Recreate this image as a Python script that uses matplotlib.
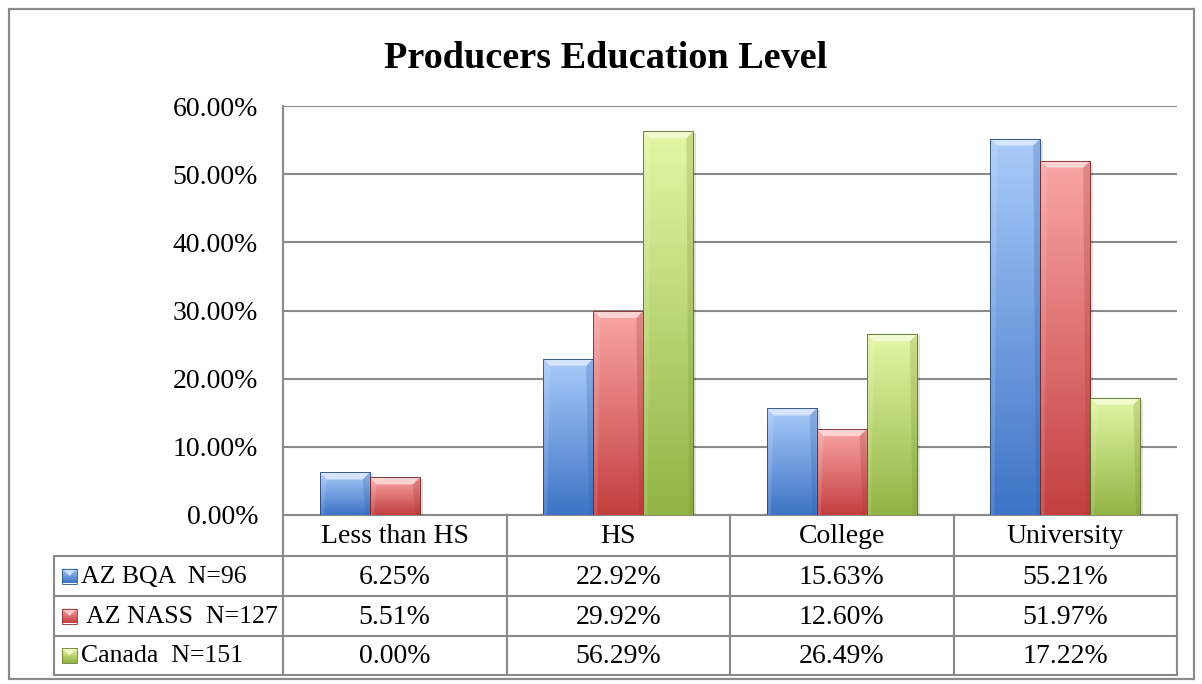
import matplotlib.pyplot as plt
import numpy as np
from matplotlib.colors import LinearSegmentedColormap, to_rgb
from matplotlib.patches import Polygon, Rectangle

plt.rcParams['font.family'] = ['Liberation Serif', 'DejaVu Serif']

categories = ["Less than HS", "HS", "College", "University"]
series_names = ["AZ BQA  N=96", " AZ NASS  N=127", "Canada  N=151"]
az_bqa = [6.25, 22.92, 15.63, 55.21]
az_nass = [5.51, 29.92, 12.60, 51.97]
canada = [0.00, 56.29, 26.49, 17.22]
series = [az_bqa, az_nass, canada]
yticks = [0, 10, 20, 30, 40, 50, 60]

# light top / dark bottom of each bar gradient
tops = ["#a9cbfa", "#f9a5a5", "#e3f7a4"]
bottoms = ["#3e74c6", "#c43f3f", "#92b444"]

W, H = 1202, 684
fig = plt.figure(figsize=(W / 100, H / 100), dpi=100)

# pixel-space layer for border, title and table
bg = fig.add_axes([0, 0, 1, 1])
bg.set_xlim(0, W)
bg.set_ylim(H, 0)
bg.axis('off')

gray = "#8a8a8a"
bg.add_patch(Rectangle((9, 9), 1185, 670, fill=False, ec=gray, lw=1.6))
bg.text(606, 58, "Producers Education Level", ha='center', va='center',
        fontsize=27.5, fontweight='bold')

left, right, top, bottom = 283, 1177, 106, 515
ax = fig.add_axes([left / W, 1 - bottom / H, (right - left) / W, (bottom - top) / H])
ax.set_facecolor('none')
ax.set_xlim(-0.5, len(categories) - 0.5)
ax.set_ylim(0, 60)
ax.set_yticks(yticks)
ax.set_yticklabels([f"{v:.2f}%" for v in yticks])
ax.set_xticks([])
ax.tick_params(axis='y', length=0, pad=18, labelsize=20)
for s in ['top', 'right', 'bottom']:
    ax.spines[s].set_visible(False)
ax.spines['left'].set_color(gray)
ax.spines['left'].set_linewidth(1.5)
ax.yaxis.grid(True, color=gray, lw=1.5)
ax.set_axisbelow(True)


def shade(c, f):
    r, g, b = to_rgb(c)
    return (r * f, g * f, b * f)


def lighten(c, f):
    r, g, b = to_rgb(c)
    return (r + (1 - r) * f, g + (1 - g) * f, b + (1 - b) * f)


bw = 0.224
x = np.arange(len(categories))
px_x = (len(categories)) / (right - left)   # data units per pixel
px_y = 60 / (bottom - top)
bev = 7
for i, vals in enumerate(series):
    cmap = LinearSegmentedColormap.from_list(f"g{i}", [bottoms[i], tops[i]])
    bars = ax.bar(x + (i - 1) * bw, vals, bw, color='none', edgecolor='none')
    for b in bars:
        x0, w, h = b.get_x(), b.get_width(), b.get_height()
        if h <= 0:
            continue
        # soft drop shadow
        ax.add_patch(Rectangle((x0 + 3 * px_x, 0), w, h - 2 * px_y,
                               fc='black', alpha=0.12, ec='none', zorder=1.5))
        clip = Rectangle((x0, 0), w, h, transform=ax.transData)
        im = ax.imshow(np.linspace(0, 1, 100).reshape(-1, 1), cmap=cmap,
                       extent=[x0, x0 + w, 0, h], origin='lower',
                       aspect='auto', zorder=2)
        im.set_clip_path(clip)
        dx, dy = bev * px_x, bev * px_y
        ax.add_patch(Polygon([(x0, h), (x0 + w, h), (x0 + w - dx, h - dy), (x0 + dx, h - dy)],
                             fc=lighten(tops[i], 0.5), ec='none', zorder=2.1))
        ax.add_patch(Polygon([(x0 + w, h), (x0 + w, 0), (x0 + w - dx * 0.6, 0),
                              (x0 + w - dx, h - dy)],
                             fc=shade(bottoms[i], 0.8), alpha=0.25, ec='none', zorder=2.1))
        ax.add_patch(Polygon([(x0, h), (x0, 0), (x0 + dx * 0.6, 0), (x0 + dx, h - dy)],
                             fc='white', alpha=0.12, ec='none', zorder=2.1))
        ax.add_patch(Rectangle((x0, 0), w, h, fill=False,
                               ec=shade(bottoms[i], 0.6), lw=0.6, zorder=2.2))
ax.set_xlim(-0.5, len(categories) - 0.5)
ax.set_ylim(0, 60)

# data table under the chart
col_w = (right - left) / len(categories)
tab_left = 54
row_y = [515, 556, 596, 636, 675]
lw = 1.5
bg.plot([left, right], [row_y[0], row_y[0]], color=gray, lw=lw)
for y in row_y[1:]:
    bg.plot([tab_left, right], [y, y], color=gray, lw=lw)
bg.plot([tab_left, tab_left], [row_y[1], row_y[-1]], color=gray, lw=lw)
for k in range(len(categories) + 1):
    xc = left + k * col_w
    bg.plot([xc, xc], [row_y[0], row_y[-1]], color=gray, lw=lw)

for k, cat in enumerate(categories):
    bg.text(left + (k + 0.5) * col_w, (row_y[0] + row_y[1]) / 2 + 1, cat,
            ha='center', va='center', fontsize=20)
for i, (name, vals) in enumerate(zip(series_names, series)):
    yc = (row_y[i + 1] + row_y[i + 2]) / 2
    # legend key
    key = Rectangle((62, yc - 7.5), 15, 15, transform=bg.transData)
    cmap = LinearSegmentedColormap.from_list(f"k{i}", [bottoms[i], tops[i]])
    kim = bg.imshow(np.linspace(0, 1, 20).reshape(-1, 1), cmap=cmap,
                    extent=[62, 77, yc + 7.5, yc - 7.5], origin='lower', aspect='auto')
    kim.set_clip_path(key)
    bg.add_patch(Polygon([(62, yc - 7.5), (77, yc - 7.5), (69.5, yc)],
                         fc=lighten(tops[i], 0.4), ec='none'))
    bg.add_patch(Rectangle((62, yc - 7.5), 15, 15, fill=False,
                           ec=shade(bottoms[i], 0.7), lw=0.6))
    bg.text(81, yc + 1, name, ha='left', va='center', fontsize=18.5)
    for k, v in enumerate(vals):
        bg.text(left + (k + 0.5) * col_w, yc + 1, f"{v:.2f}%",
                ha='center', va='center', fontsize=20)
bg.set_xlim(0, W)
bg.set_ylim(H, 0)

fig.savefig("out.png", dpi=100)
